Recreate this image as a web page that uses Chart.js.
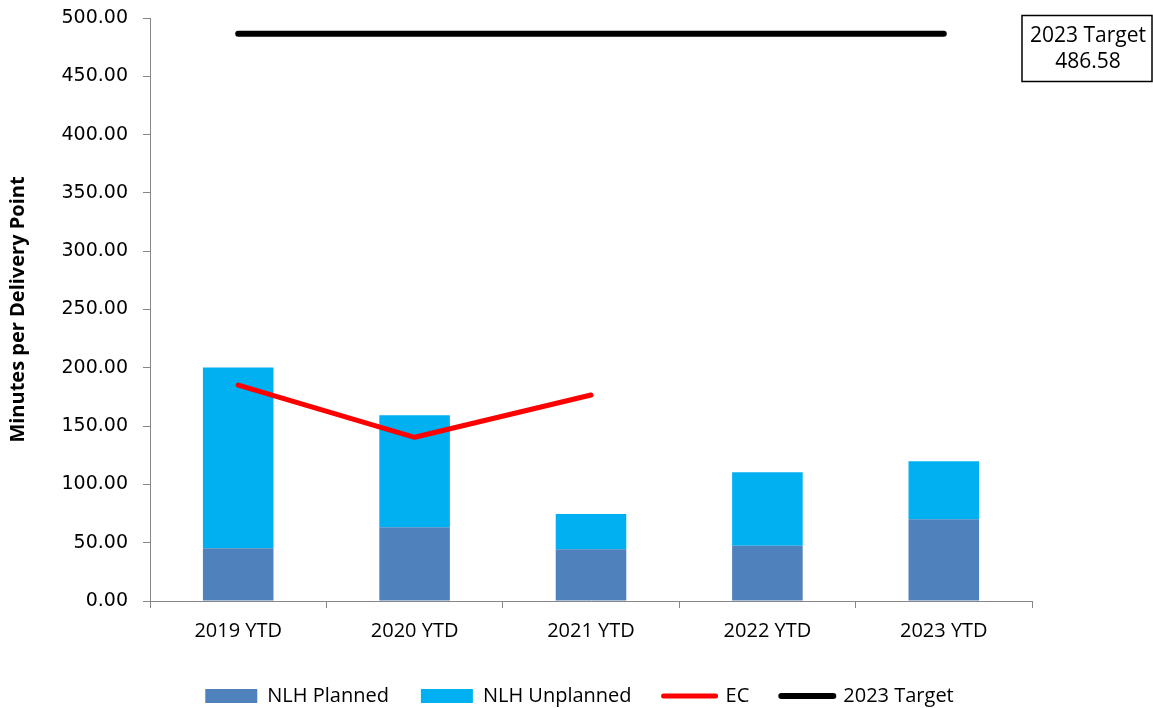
<!DOCTYPE html>
<html>
<head>
<meta charset="utf-8">
<script src="https://cdn.jsdelivr.net/npm/chart.js@4.4.1/dist/chart.umd.min.js"></script>
<style>
  html, body { margin: 0; padding: 0; background: #fff; }
  #wrap { width: 1153px; height: 708px; }
</style>
</head>
<body>
<div id="wrap"><canvas id="chart" width="1153" height="708"></canvas></div>
<script>
const categories = ["2019 YTD", "2020 YTD", "2021 YTD", "2022 YTD", "2023 YTD"];
const nlhPlanned = [45.2, 63.2, 44.3, 47.4, 70.1];
const nlhUnplanned = [155.0, 96.1, 30.3, 63.0, 49.7];
const ecValues = [185.2, 140.4, 176.7, null, null];
const target2023 = 486.58;
const targetLine = categories.map(() => target2023);
const yTicks = [0, 50, 100, 150, 200, 250, 300, 350, 400, 450, 500];

const FONT = "'Open Sans', 'Liberation Sans', sans-serif";
const AXIS_GRAY = "#868686";

// box in the top right corner with the target value
const targetBox = {
  id: "targetBox",
  afterDraw(chart) {
    const ctx = chart.ctx;
    ctx.save();
    ctx.strokeStyle = "#000";
    ctx.lineWidth = 1.5;
    ctx.strokeRect(1022, 15.5, 130, 66);
    ctx.fillStyle = "#000";
    ctx.font = "21px " + FONT;
    ctx.textAlign = "center";
    ctx.textBaseline = "middle";
    ctx.fillText("2023 Target", 1088, 36);
    ctx.fillText(target2023.toFixed(2), 1088, 62);
    ctx.restore();
  }
};

new Chart(document.getElementById("chart"), {
  type: "bar",
  data: {
    labels: categories,
    datasets: [
      {
        label: "NLH Planned",
        data: nlhPlanned,
        backgroundColor: "#4F81BD",
        stack: "nlh",
        order: 2,
        barPercentage: 0.4,
        categoryPercentage: 1
      },
      {
        label: "NLH Unplanned",
        data: nlhUnplanned,
        backgroundColor: "#00B0F0",
        stack: "nlh",
        order: 3,
        barPercentage: 0.4,
        categoryPercentage: 1
      },
      {
        type: "line",
        label: "EC",
        data: ecValues,
        stack: "ec",
        borderColor: "#FF0000",
        backgroundColor: "#FF0000",
        borderWidth: 5,
        borderCapStyle: "round",
        borderJoinStyle: "round",
        pointRadius: 0,
        tension: 0,
        order: 1
      },
      {
        type: "line",
        label: "2023 Target",
        data: targetLine,
        stack: "target",
        borderColor: "#000",
        backgroundColor: "#000",
        borderWidth: 6,
        borderCapStyle: "round",
        pointRadius: 0,
        tension: 0,
        order: 0
      }
    ]
  },
  options: {
    responsive: false,
    animation: false,
    layout: { padding: { left: 6, right: 0, top: 18, bottom: -8 } },
    plugins: {
      tooltip: { enabled: false },
      legend: {
        position: "bottom",
        labels: {
          font: { family: FONT, size: 20 },
          color: "#000",
          usePointStyle: true,
          pointStyleWidth: 52,
          boxHeight: 14,
          padding: 32,
          // keep the legend in dataset order, lines drawn as strokes
          generateLabels(chart) {
            return chart.data.datasets.map((ds, i) => {
              const isLine = ds.type === "line";
              return {
                text: ds.label,
                datasetIndex: i,
                fillStyle: ds.backgroundColor,
                strokeStyle: isLine ? ds.borderColor : ds.backgroundColor,
                lineWidth: isLine ? ds.borderWidth : 0,
                lineCap: "round",
                pointStyle: isLine ? "line" : "rect",
                fontColor: "#000",
                hidden: false
              };
            });
          }
        }
      }
    },
    scales: {
      x: {
        stacked: true,
        afterFit(scale) { scale.height = 53; },
        grid: {
          offset: true,
          drawOnChartArea: false,
          tickLength: 7,
          color: AXIS_GRAY
        },
        border: { color: AXIS_GRAY, width: 1 },
        ticks: {
          font: { family: FONT, size: 20 },
          color: "#000",
          padding: 11
        }
      },
      y: {
        stacked: true,
        min: 0,
        max: 500,
        afterFit(scale) {
          scale.width = 144;
          scale.paddingTop = 0;
          scale.paddingBottom = 0;
        },
        afterBuildTicks(scale) { scale.ticks = yTicks.map(v => ({ value: v })); },
        grid: {
          drawOnChartArea: false,
          tickLength: 7,
          color: AXIS_GRAY
        },
        border: { color: AXIS_GRAY, width: 1 },
        ticks: {
          font: { family: "'DejaVu Sans', sans-serif", size: 19 },
          color: "#000",
          padding: 15,
          callback: v => Number(v).toFixed(2)
        },
        title: {
          display: true,
          text: "Minutes per Delivery Point",
          font: { family: FONT, size: 20, weight: "bold" },
          color: "#000",
          padding: { top: 0, bottom: 0 }
        }
      },
      // empty axis that keeps the space on the right free for the target box
      yRight: {
        position: "right",
        min: 0,
        max: 500,
        afterFit(scale) {
          scale.width = 121;
          scale.paddingTop = 0;
          scale.paddingBottom = 0;
        },
        grid: { display: false },
        border: { display: false },
        ticks: { display: false }
      }
    }
  },
  plugins: [targetBox]
});
</script>
</body>
</html>
